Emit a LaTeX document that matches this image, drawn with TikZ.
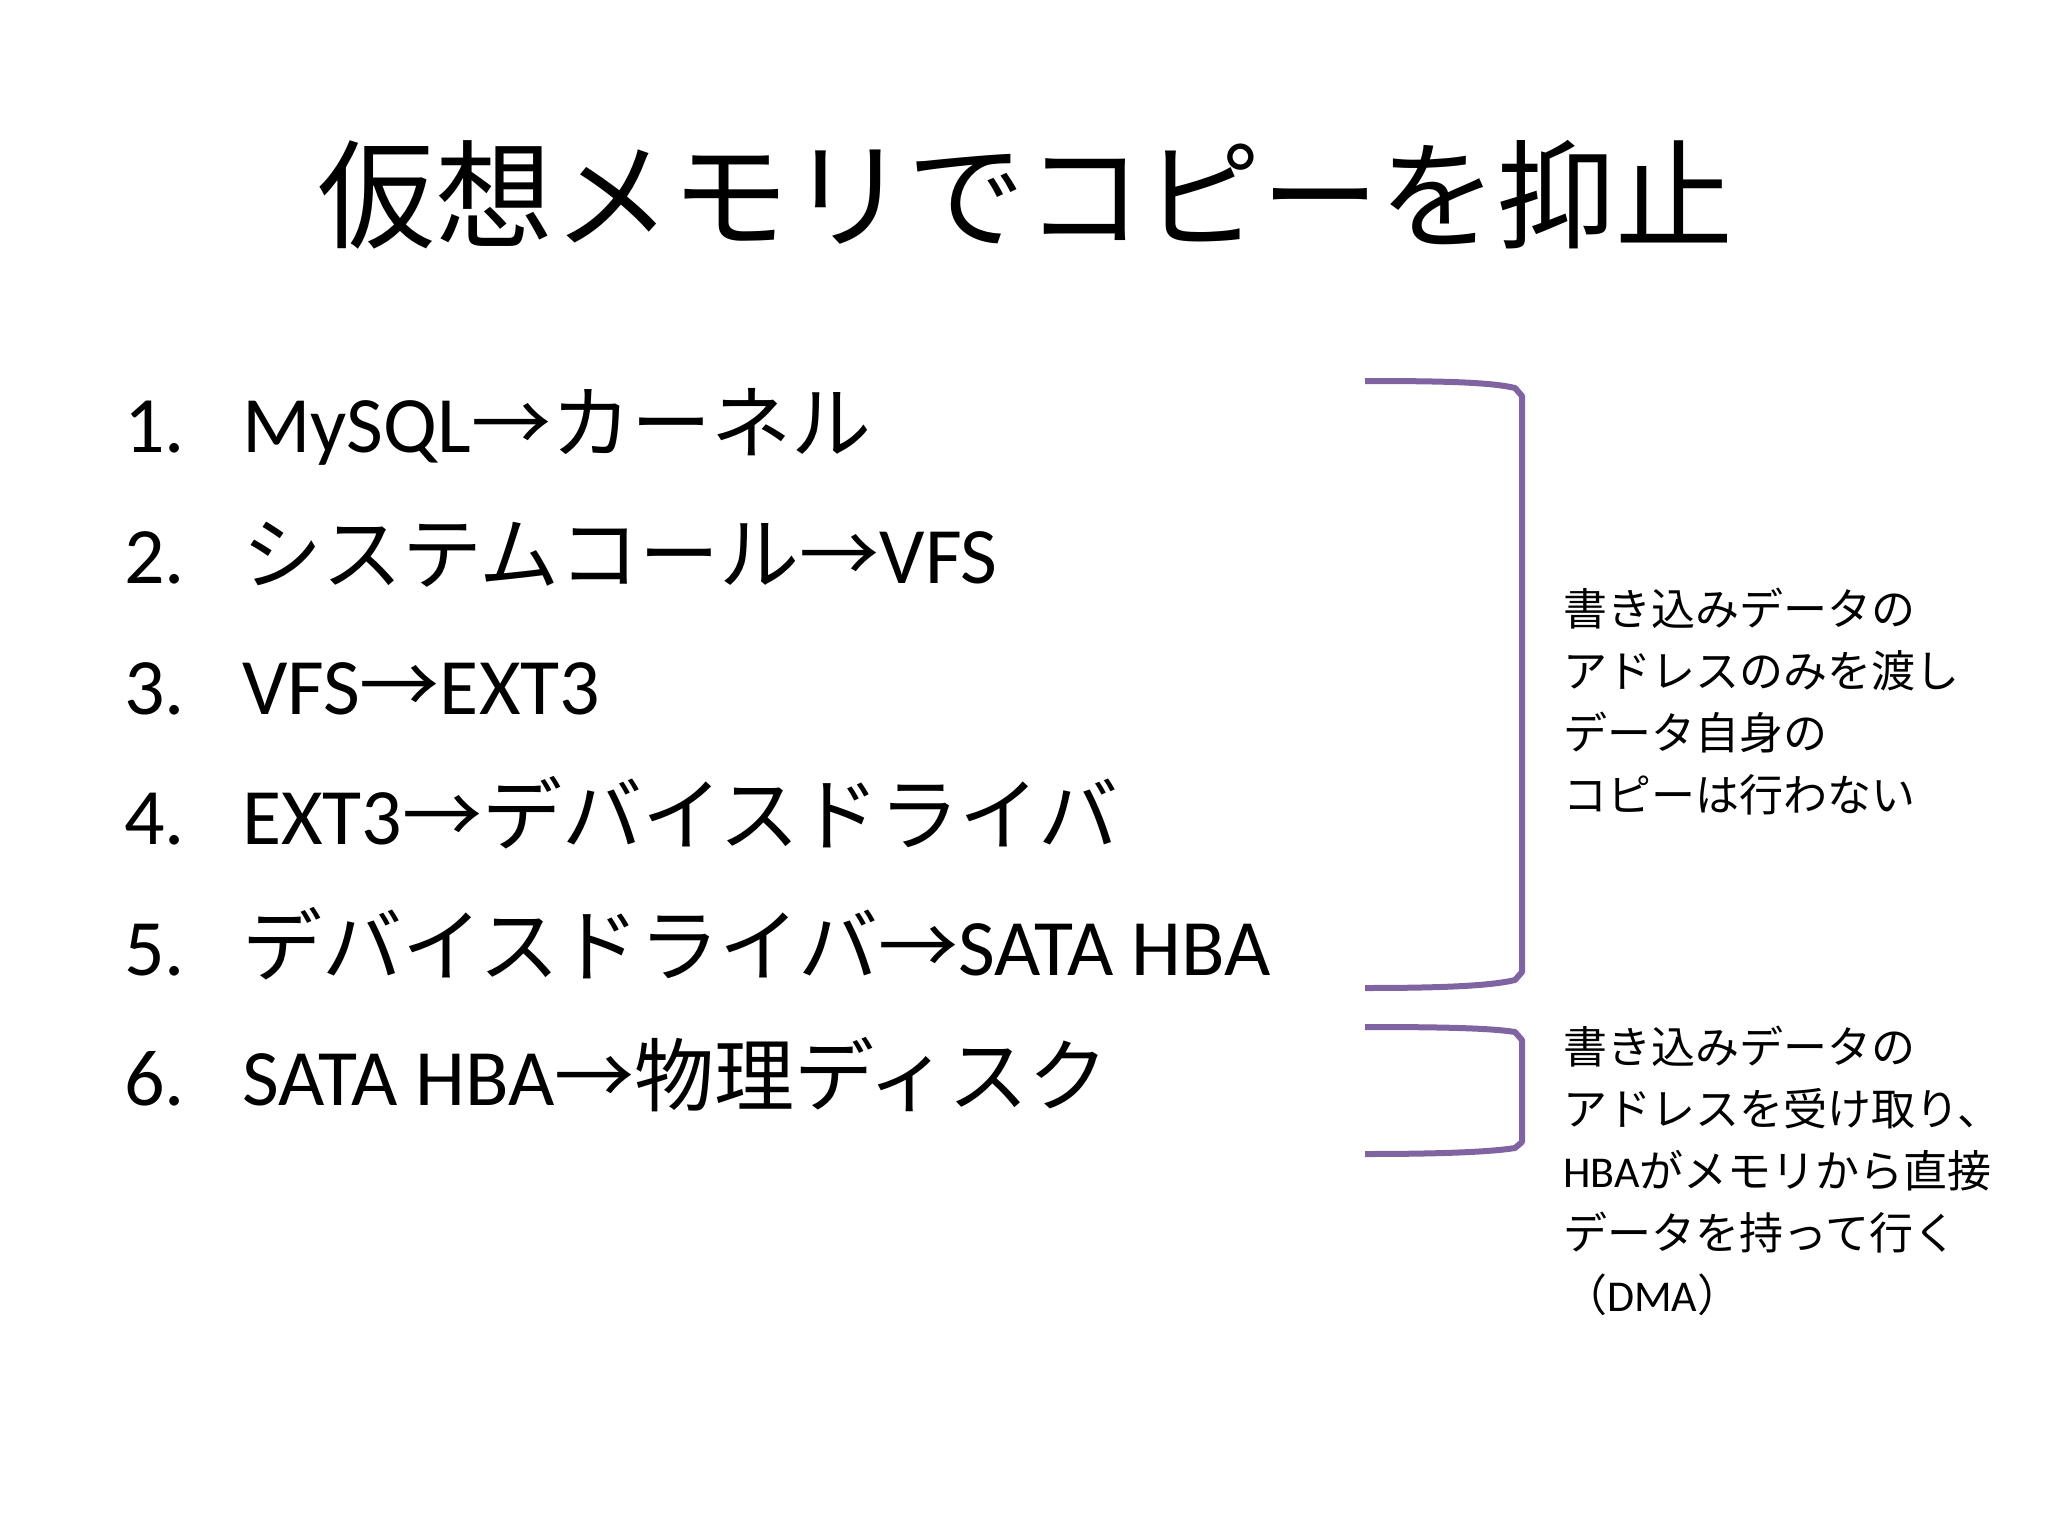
\documentclass[tikz,border=0pt]{standalone}
\usepackage{fontspec}
\setmainfont{Carlito}
\newfontfamily\cjk{Noto Sans CJK JP}
\definecolor{brk}{RGB}{128,100,162}
\begin{document}
\begin{tikzpicture}[x=1pt,y=-1pt,
  item/.style={anchor=base west,inner sep=0,font=\fontsize{80}{90}\selectfont},
  num/.style={anchor=base west,inner sep=0,font=\fontsize{80}{90}\selectfont},
  note/.style={anchor=north west,inner sep=0,align=left,font=\fontsize{44}{62}\selectfont},
  brace/.style={draw=brk,line width=6pt,line join=round}]
\useasboundingbox (0,0) rectangle (2048,1536);
\node[inner sep=0,font=\cjk\fontsize{118}{130}\selectfont] (title) at (1025,195) {仮想メモリでコピーを抑止};
\foreach \n/\y in {1/452,2/583,3/714,4/844,5/975,6/1105}{\node[num] (n\n) at (124,\y) {\n.};}
\node[item] (i1) at (242,452) {MySQL{\cjk →カーネル}};
\node[item] (i2) at (242,583) {{\cjk システムコール→}VFS};
\node[item] (i3) at (242,714) {VFS{\cjk →}EXT3};
\node[item] (i4) at (242,844) {EXT3{\cjk →デバイスドライバ}};
\node[item] (i5) at (242,975) {{\cjk デバイスドライバ→}SATA HBA};
\node[item] (i6) at (242,1105) {SATA HBA{\cjk →物理ディスク}};
\draw[brace] (1365,381) .. controls (1440,381) and (1490,382) .. (1515,388) -- (1522,396) -- (1522,972) -- (1515,980) .. controls (1490,986) and (1440,988) .. (1365,988);
\draw[brace] (1365,1027) .. controls (1440,1027) and (1490,1028) .. (1515,1032) -- (1522,1040) -- (1522,1142) -- (1515,1148) .. controls (1490,1152) and (1440,1154) .. (1365,1154);
\node[note] (t1) at (1563,588) {\cjk 書き込みデータの\\\cjk アドレスのみを渡し\\\cjk データ自身の\\\cjk コピーは行わない};
\node[note] (t2) at (1563,1026) {\cjk 書き込みデータの\\\cjk アドレスを受け取り、\\HBA{\cjk がメモリから直接}\\\cjk データを持って行く\\{\cjk （}DMA{\cjk ）}};
\end{tikzpicture}
\end{document}
